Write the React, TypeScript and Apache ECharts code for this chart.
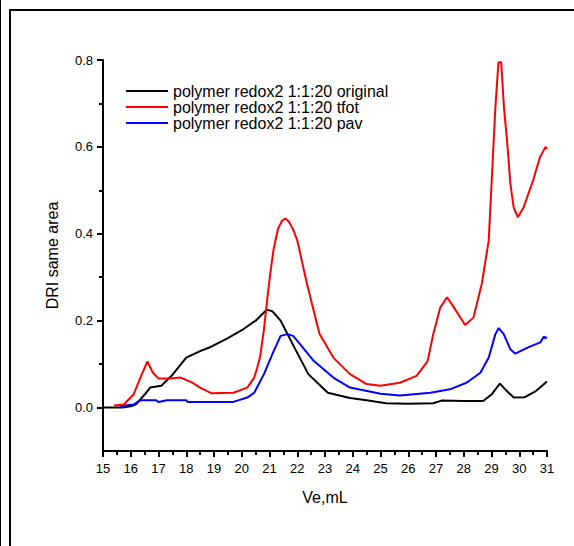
import React, { useEffect, useRef } from "react";
import * as echarts from "echarts";

const seriesNames = [
  "polymer redox2 1:1:20 original",
  "polymer redox2 1:1:20 tfot",
  "polymer redox2 1:1:20 pav",
];

const xOriginal = [15.0, 15.7, 16.0, 16.2, 16.5, 16.7, 17.1, 17.5, 18.0, 18.5, 18.9, 19.5, 20.0, 20.5, 20.9, 21.1, 21.4, 21.9, 22.4, 23.1, 23.9, 24.5, 25.2, 26.0, 26.9, 27.2, 28.0, 28.7, 29.0, 29.3, 29.6, 29.8, 30.2, 30.6, 31.0];
const yOriginal = [0, 0, 0.003, 0.008, 0.03, 0.046, 0.05, 0.075, 0.115, 0.13, 0.14, 0.16, 0.178, 0.2, 0.225, 0.222, 0.2, 0.138, 0.077, 0.034, 0.022, 0.017, 0.01, 0.009, 0.01, 0.016, 0.015, 0.015, 0.03, 0.055, 0.035, 0.023, 0.024, 0.038, 0.06];

const xTfot = [15.4, 15.75, 16.1, 16.4, 16.6, 16.8, 17.0, 17.4, 17.8, 18.2, 18.5, 18.9, 19.7, 20.2, 20.45, 20.55, 20.67, 20.8, 20.92, 21.05, 21.15, 21.3, 21.45, 21.57, 21.7, 21.85, 22.0, 22.35, 22.8, 23.3, 23.9, 24.5, 25.0, 25.7, 26.3, 26.7, 26.9, 27.15, 27.4, 27.65, 28.05, 28.35, 28.65, 28.9, 29.02, 29.14, 29.25, 29.35, 29.45, 29.56, 29.68, 29.8, 29.95, 30.15, 30.5, 30.75, 30.95, 31.0];
const yTfot = [0.005, 0.007, 0.03, 0.077, 0.106, 0.08, 0.067, 0.067, 0.069, 0.058, 0.046, 0.033, 0.034, 0.046, 0.069, 0.09, 0.12, 0.18, 0.25, 0.32, 0.365, 0.41, 0.43, 0.435, 0.428, 0.41, 0.385, 0.285, 0.17, 0.115, 0.077, 0.054, 0.05, 0.057, 0.073, 0.107, 0.169, 0.23, 0.254, 0.23, 0.19, 0.207, 0.285, 0.385, 0.539, 0.69, 0.795, 0.795, 0.69, 0.615, 0.515, 0.46, 0.438, 0.46, 0.523, 0.577, 0.6, 0.595];

const xPav = [15.6, 16.1, 16.35, 16.9, 17.0, 17.3, 18.0, 18.05, 19.7, 20.2, 20.45, 20.8, 21.15, 21.4, 21.65, 21.85, 22.1, 22.6, 23.3, 23.9, 25.0, 25.7, 26.8, 27.5, 28.1, 28.6, 28.9, 29.14, 29.26, 29.44, 29.68, 29.86, 30.3, 30.76, 30.88, 31.0];
const yPav = [0.003, 0.007, 0.017, 0.017, 0.013, 0.017, 0.017, 0.013, 0.013, 0.023, 0.034, 0.077, 0.13, 0.165, 0.169, 0.165, 0.146, 0.107, 0.069, 0.046, 0.032, 0.028, 0.034, 0.042, 0.057, 0.08, 0.115, 0.169, 0.183, 0.169, 0.134, 0.124, 0.138, 0.15, 0.163, 0.16];

const yMajorTicks = [0, 0.2, 0.4, 0.6, 0.8];
const yMinorTicks = [0.1, 0.3, 0.5, 0.7];

const colors = ["#000000", "#ff0000", "#0000ff"];

const FONT = "Liberation Sans, Arial, sans-serif";

function pairs(xs: number[], ys: number[]) {
  return xs.map((x, i) => [x, ys[i]]);
}

export default function App() {
  const ref = useRef<HTMLDivElement>(null);

  useEffect(() => {
    if (!ref.current) return;
    const chart = echarts.init(ref.current, null, { renderer: "svg" });
    const dataSets = [
      pairs(xOriginal, yOriginal),
      pairs(xTfot, yTfot),
      pairs(xPav, yPav),
    ];
    chart.setOption({
      animation: false,
      backgroundColor: "#ffffff",
      textStyle: { fontFamily: FONT },
      grid: { left: 103, right: 27, top: 60, bottom: 95 },
      legend: {
        orient: "vertical",
        left: 126,
        top: 83,
        padding: 0,
        itemGap: 0,
        itemWidth: 42,
        itemHeight: 2,
        data: seriesNames.map((n) => ({ name: n, icon: "rect" })),
        textStyle: { fontSize: 16, lineHeight: 16, color: "#000", fontFamily: FONT },
      },
      xAxis: {
        type: "value",
        min: 15,
        max: 31,
        interval: 1,
        name: "Ve,mL",
        nameLocation: "middle",
        nameGap: 38,
        nameTextStyle: { fontSize: 16, color: "#000", fontFamily: FONT },
        axisLine: { show: true, onZero: false, lineStyle: { color: "#000", width: 2 } },
        axisTick: { show: true, inside: false, length: 6, lineStyle: { color: "#000", width: 2 } },
        minorTick: { show: true, splitNumber: 2, length: 4, lineStyle: { color: "#000", width: 2 } },
        axisLabel: { fontSize: 13, color: "#000", margin: 11, fontFamily: FONT },
        splitLine: { show: false },
      },
      yAxis: [
        {
          type: "value",
          min: -0.1,
          max: 0.8,
          position: "left",
          name: "DRI same area",
          nameLocation: "middle",
          nameGap: 43,
          nameRotate: 90,
          nameTextStyle: { fontSize: 16, color: "#000", fontFamily: FONT },
          axisLine: { show: true, onZero: false, lineStyle: { color: "#000", width: 2 } },
          axisTick: { show: true, inside: false, length: 6, customValues: yMajorTicks, lineStyle: { color: "#000", width: 2 } },
          axisLabel: {
            fontSize: 13,
            color: "#000",
            margin: 10,
            customValues: yMajorTicks,
            formatter: (v: number) => v.toFixed(1),
            fontFamily: FONT,
          },
          splitLine: { show: false },
        },
        {
          type: "value",
          min: -0.1,
          max: 0.8,
          position: "left",
          axisLine: { show: false },
          axisTick: { show: true, inside: false, length: 4, customValues: yMinorTicks, lineStyle: { color: "#000", width: 2 } },
          axisLabel: { show: false },
          splitLine: { show: false },
        },
      ],
      series: dataSets.map((d, i) => ({
        name: seriesNames[i],
        type: "line",
        data: d,
        symbol: "none",
        showSymbol: false,
        yAxisIndex: 0,
        color: colors[i],
        lineStyle: { color: colors[i], width: 2 },
        itemStyle: { color: colors[i] },
        z: i === 1 ? 3 : 2,
      })),
      graphic: [
        { type: "line", shape: { x1: 0.5, y1: 0, x2: 0.5, y2: 546 }, style: { stroke: "#000", lineWidth: 1 } },
        { type: "line", shape: { x1: 10, y1: 9, x2: 10, y2: 546 }, style: { stroke: "#000", lineWidth: 2 } },
        { type: "line", shape: { x1: 9, y1: 10, x2: 574, y2: 10 }, style: { stroke: "#000", lineWidth: 2 } },
      ],
    });
    return () => chart.dispose();
  }, []);

  return (
    <div
      ref={ref}
      style={{ position: "fixed", left: 0, top: 0, width: 574, height: 546, background: "#fff" }}
    />
  );
}
